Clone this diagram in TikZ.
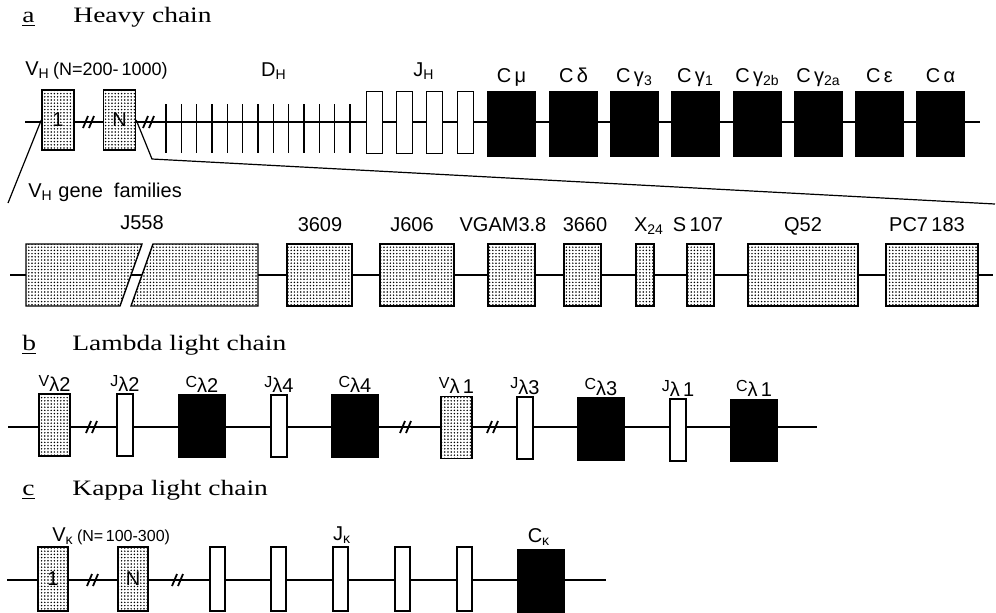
\documentclass[tikz,border=0pt]{standalone}
\usepackage{fontspec}
\setmainfont{Liberation Sans}
\newfontfamily\ttlfont[FakeStretch=1.25]{Liberation Serif}
\usetikzlibrary{patterns.meta, positioning}

\begin{document}
\begin{tikzpicture}[x=0.5pt, y=-0.5pt,
    seg/.style={draw, line width=.7pt, inner sep=0pt, minimum height=31pt},
    dots/.style={preaction={fill=white}, pattern={Dots[distance=1.6pt, radius=.42pt]}},
    vseg/.style={seg, dots, minimum width=16pt, font=\fontsize{10}{12}\selectfont},
    jseg/.style={seg, fill=white, minimum width=8pt},
    cseg/.style={seg, fill=black, minimum width=23.5pt, minimum height=32pt},
    dseg/.style={line width=.7pt},
    locus/.style={line width=1pt},
    fan/.style={line width=.6pt},
    brk/.style={line width=.9pt},
    gl/.style={font=\fontsize{10}{12}\selectfont, inner sep=0pt, anchor=base},
    ll/.style={font=\fontsize{10}{12}\selectfont, inner sep=0pt, anchor=south},
    ttl/.style={font=\ttlfont\fontsize{11}{13}\selectfont, inner sep=0pt, anchor=base west}]
  \useasboundingbox (0,0) rectangle (996,612);

  % a: heavy chain
  \node[ttl] (ta) at (22,22) {\underline{a}};
  \node[ttl] (tah) at (73,22) {Heavy chain};
  \coordinate (hL) at (25,122);
  \coordinate (hR) at (980,122);
  \draw[locus] (hL) -- (hR);
  \node[vseg, minimum height=30pt] (hv1) at (58,120) {1};
  \node[vseg, minimum height=30pt] (hvN) at (119.5,120) {N};
  \foreach \bx in {89,149}
    \draw[brk] (\bx-6,128) -- (\bx-1,116) (\bx,128) -- (\bx+5,116);
  \foreach \i in {0,...,12}
    \draw[dseg] ({166+15.33*\i},104) -- ++(0,49);
  \foreach \cx [count=\i] in {374.5,404.5,434.5,465.5}
    \node[jseg] (hj\i) at (\cx,122.5) {};
  \foreach \cx/\txt [count=\i] in {511.5/{C\,μ}, 573.5/{C\,δ}, 634.5/{C\,γ\textsubscript{3}},
      695.5/{C\,γ\textsubscript{1}}, 757.5/{C\,γ\textsubscript{2b}}, 818.5/{C\,γ\textsubscript{2a}},
      879.5/{C\,ε}, 940.5/{C\,α}} {
    \node[cseg] (hc\i) at (\cx,124) {};
    \node[gl] (hcl\i) at ([yshift=4.5pt]hc\i.north) {\txt};
  }
  \node[gl, anchor=base west] (hvl) at (25,75) {V\textsubscript{H}\,{\fontsize{9}{11}\selectfont(N=200-\,1000)}};
  \node[gl] (hdl) at (274,76) {D\textsubscript{H}};
  \node[gl] (hjl) at (424,76) {J\textsubscript{H}};

  % zoom onto the V_H families
  \coordinate (fanA) at (8,203);
  \coordinate (fanB) at (152,159);
  \coordinate (fanC) at (995,204);
  \draw[fan] (hv1.west) -- (fanA);
  \draw[fan] (hvN.east) -- (fanB) -- (fanC);
  \node[gl, anchor=base west] (fam) at (28,197) {V\textsubscript{H} gene\ \ families};

  \coordinate (fL) at (10,275);
  \coordinate (fR) at (993,275);
  \draw[locus] (fL) -- (fR);
  \draw[seg, dots]
    (26,244) -- (142,244) -- (120,306) -- (26,306) -- cycle
    (153,244) -- (258,244) -- (258,306) -- (131,306) -- cycle;
  \node[gl] (fl0) at (142,229) {J558};
  \foreach \cx/\w/\lx/\txt [count=\i] in {319.5/32.5pt/320/3609, 417/37pt/412/J606,
      511.5/23.5pt/503/VGAM3.8, 582.5/18.5pt/585/3660, 645/9pt/649/{X\textsubscript{24}},
      700.5/13.5pt/698/{S\,107}, 803/55pt/803/Q52, 932/46pt/927/{PC7\,183}} {
    \node[vseg, minimum width=\w] (f\i) at (\cx,275) {};
    \node[gl] (fl\i) at (\lx,231) {\txt};
  }

  % b: lambda light chain
  \node[ttl] (tb) at (22,350) {\underline{b}};
  \node[ttl] (tbl) at (72,350) {Lambda light chain};
  \coordinate (lL) at (8,427);
  \coordinate (lR) at (817,427);
  \draw[locus] (lL) -- (lR);
  \foreach \bx in {92,406,493}
    \draw[brk] (\bx-6,433) -- (\bx-1,421) (\bx,433) -- (\bx+5,421);
  \node[vseg, minimum width=15.5pt] (lv2) at (54.5,425) {};
  \node[jseg] (lj2) at (125,425) {};
  \node[cseg, minimum width=23pt, minimum height=31pt] (lc2) at (202,426) {};
  \node[jseg] (lj4) at (279,426) {};
  \node[cseg, minimum width=23pt, minimum height=31pt] (lc4) at (355,426) {};
  \node[vseg, minimum width=15.5pt] (lv1) at (456.5,427.5) {};
  \node[jseg] (lj3) at (525,428) {};
  \node[cseg, minimum width=23pt, minimum height=31pt] (lc3) at (601,429) {};
  \node[jseg] (lj1) at (678,430) {};
  \node[cseg, minimum width=23pt, minimum height=31pt] (lc1) at (754,430.5) {};
  \foreach \nm/\a/\b in {lv2/V/λ2, lj2/J/λ2, lc2/C/λ2, lj4/J/λ4, lc4/C/λ4,
      lv1/V/λ\,1, lj3/J/λ3, lc3/C/λ3, lj1/J/λ\,1, lc1/C/λ\,1}
    \node[ll] (\nm l) at ([yshift=.8pt]\nm.north) {{\fontsize{8}{9}\selectfont\a}\raisebox{-.5ex}{\b}};

  % c: kappa light chain
  \node[ttl] (tc) at (22,495) {\underline{c}};
  \node[ttl] (tck) at (72,495) {Kappa light chain};
  \coordinate (kL) at (7,580);
  \coordinate (kR) at (606,580);
  \draw[locus] (kL) -- (kR);
  \foreach \bx in {93,178}
    \draw[brk] (\bx-6,586) -- (\bx-1,574) (\bx,586) -- (\bx+5,574);
  \node[vseg, minimum width=15pt, minimum height=32pt] (kv1) at (53,579) {1};
  \node[vseg, minimum width=15pt, minimum height=32pt] (kvN) at (133,579) {N};
  \foreach \cx [count=\i] in {217.5,278.5,340.5,402.5,464.5}
    \node[jseg, minimum width=7.5pt, minimum height=32pt] (kj\i) at (\cx,579) {};
  \node[cseg, minimum width=23pt, minimum height=31pt] (kc) at (541,581) {};
  \node[gl, anchor=base west] (kvl) at (52,541) {V\textsubscript{κ}\,{\fontsize{8}{10}\selectfont(N=\,100-300)}};
  \node[gl] (kjl) at (342,540) {J\textsubscript{κ}};
  \node[gl] (kcl) at (539,542) {C\textsubscript{κ}};
\end{tikzpicture}
\end{document}
